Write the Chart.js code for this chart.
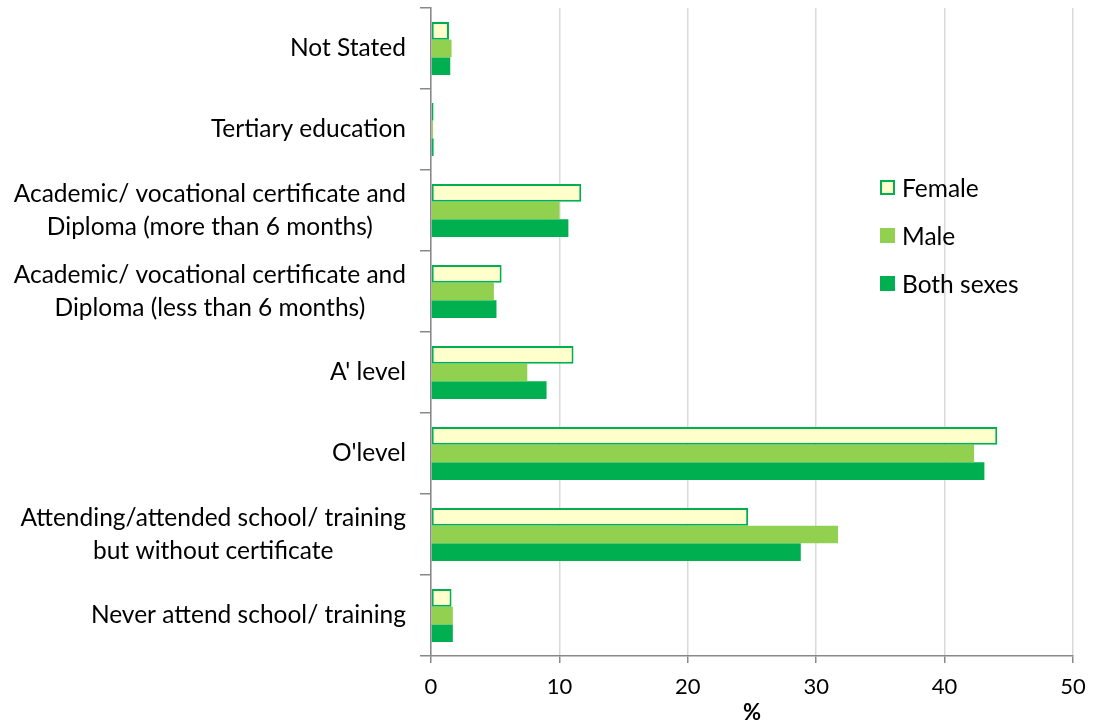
<!DOCTYPE html>
<html>
<head>
<meta charset="utf-8">
<script src="https://cdn.jsdelivr.net/npm/chart.js@4.4.1/dist/chart.umd.min.js"></script>
<style>
  html, body { margin: 0; padding: 0; background: #fff; }
  #wrap { position: relative; width: 1093px; height: 726px; }
  #legend { position: absolute; left: 880px; top: 172px; font-family: Lato, sans-serif; font-size: 24.5px; color: #000; }
  #legend div { display: flex; align-items: center; height: 30px; margin-bottom: 18px; }
  #legend span.box { width: 15px; height: 15px; box-sizing: border-box; margin-right: 7px; }
</style>
</head>
<body>
<div id="wrap">
  <canvas id="chart" width="1093" height="726"></canvas>
  <div id="legend"></div>
</div>
<script>
const categories = [
  "Not Stated",
  "Tertiary education",
  ["Academic/ vocational certificate and", "Diploma (more than 6 months)"],
  ["Academic/ vocational certificate and", "Diploma (less than 6 months)"],
  "A' level",
  "O'level",
  ["Attending/attended school/ training", "but without certificate"],
  "Never attend school/ training",
];
const seriesNames = ["Female", "Male", "Both sexes"];
const female = [1.4, 0.2, 11.7, 5.5, 11.1, 44.1, 24.7, 1.6];
const male = [1.6, 0.15, 10.0, 4.9, 7.5, 42.3, 31.7, 1.7];
const both = [1.5, 0.2, 10.7, 5.1, 9.0, 43.1, 28.8, 1.7];
const xTicks = [0, 10, 20, 30, 40, 50];

const FONT = "Lato, sans-serif";

// y labels: lines centred on each other, block right-aligned
const yLabelPlugin = {
  id: "yLabels",
  afterDraw(chart) {
    const s = chart.scales.y;
    const ctx = chart.ctx;
    const right = s.right - 11 - 14;
    const lh = 33;
    ctx.save();
    ctx.font = "24.5px " + FONT;
    ctx.fillStyle = "#000";
    ctx.textAlign = "center";
    ctx.textBaseline = "middle";
    categories.forEach((lab, i) => {
      const lines = Array.isArray(lab) ? lab : [lab];
      const w = Math.max(...lines.map((l) => ctx.measureText(l).width));
      const cx = right - w / 2;
      const y0 = s.getPixelForTick(i) - ((lines.length - 1) * lh) / 2;
      lines.forEach((l, j) => ctx.fillText(l, cx, y0 + j * lh));
    });
    ctx.restore();
  },
};

const datasets = [
  { label: seriesNames[0], data: female, backgroundColor: "#FFFFCC", borderColor: "#00B050", borderWidth: 2, borderSkipped: false },
  { label: seriesNames[1], data: male, backgroundColor: "#92D050", borderWidth: 0 },
  { label: seriesNames[2], data: both, backgroundColor: "#00B050", borderWidth: 0 },
];

new Chart(document.getElementById("chart"), {
  type: "bar",
  data: { labels: categories.map((c) => (Array.isArray(c) ? c.join(" ") : c)), datasets },
  options: {
    indexAxis: "y",
    responsive: false,
    animation: false,
    layout: { padding: { top: 8, right: 20, left: 0, bottom: 0 } },
    datasets: { bar: { categoryPercentage: 0.655, barPercentage: 1 } },
    plugins: { legend: { display: false }, tooltip: { enabled: false } },
    scales: {
      x: {
        min: 0,
        max: 50,
        afterBuildTicks: (s) => { s.ticks = xTicks.map((v) => ({ value: v })); },
        afterFit: (s) => { s.height = 70; s.paddingRight = 0; s.paddingLeft = 0; },
        grid: { color: "#d9d9d9", lineWidth: 1.5, tickColor: "#888", tickLength: 7 },
        border: { color: "#888", width: 1.5 },
        ticks: { font: { family: FONT, size: 22 }, color: "#000", padding: 11 },
        title: { display: true, text: "%", font: { family: FONT, size: 22, weight: "bold" }, color: "#000", padding: { top: 0, bottom: 0 } },
      },
      y: {
        afterFit: (s) => { s.width = 431; },
        grid: { offset: true, drawOnChartArea: false, color: "#888", lineWidth: 1.5, tickLength: 11 },
        border: { color: "#888", width: 1.5 },
        ticks: { display: false },
      },
    },
  },
  plugins: [yLabelPlugin],
});

const legendEl = document.getElementById("legend");
datasets.forEach((d) => {
  const row = document.createElement("div");
  const box = document.createElement("span");
  box.className = "box";
  box.style.background = d.backgroundColor;
  if (d.borderWidth) box.style.border = "2px solid " + d.borderColor;
  const txt = document.createElement("span");
  txt.textContent = d.label;
  row.appendChild(box);
  row.appendChild(txt);
  legendEl.appendChild(row);
});
</script>
</body>
</html>
